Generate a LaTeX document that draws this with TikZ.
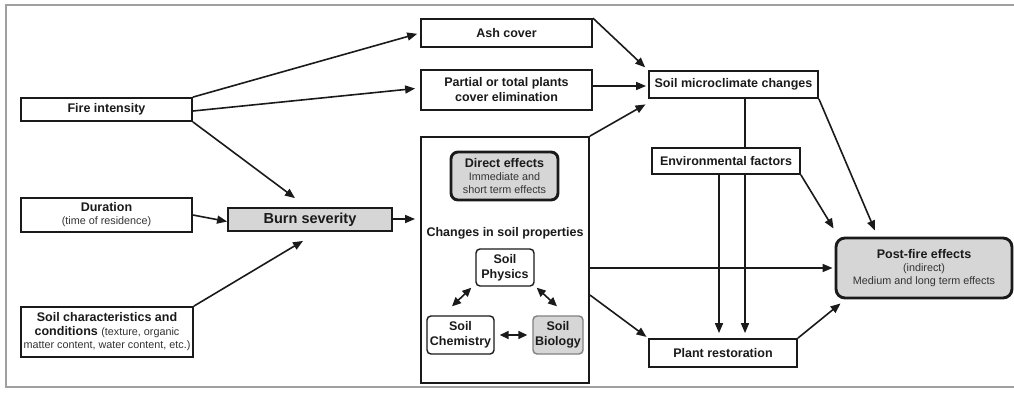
\documentclass[tikz,border=0pt]{standalone}
\usepackage{fontspec}
\setmainfont{Liberation Sans}
\usetikzlibrary{arrows.meta,calc}
\definecolor{ink}{HTML}{1A1A1A}
\definecolor{smallink}{HTML}{333333}
\definecolor{boxgray}{HTML}{D6D6D6}
\definecolor{framegray}{HTML}{A0A0A0}
\newcommand{\bl}{\fontsize{12.5}{15}\selectfont\bfseries}
\newcommand{\blbig}{\fontsize{14.5}{16}\selectfont\bfseries}
\newcommand{\sm}{\fontsize{10.8}{13.5}\selectfont\mdseries\color{smallink}}
\tikzset{
  box/.style={draw=ink, line width=1.8pt, fill=white, inner sep=0pt, align=center, font=\bl, text=ink},
  rbox/.style={box, rounded corners=4pt, line width=1.4pt},
  thickbox/.style={box, rounded corners=7pt, line width=2.9pt, fill=boxgray},
  arr/.style={draw=ink, line width=1.6pt, -{Triangle[length=10pt,width=8pt]}},
  darr/.style={draw=ink, line width=1.6pt, {Triangle[length=9pt,width=8pt]}-{Triangle[length=9pt,width=8pt]}},
  plain/.style={draw=ink, line width=1.6pt}
}
\begin{document}
\begin{tikzpicture}[x=1pt,y=-1pt]
\useasboundingbox (0,0) rectangle (1014,394);
\draw[framegray, line width=1.2pt] (1014,5) -- (6,5) -- (6,387) -- (1014,387);

% left column
\node[box, minimum width=171pt, minimum height=23pt] (fire) at (106.5,109.5) {Fire intensity};
\node[box, minimum width=171pt, minimum height=34pt] (dur) at (106.5,215) {Duration\\[-2pt]{\sm (time of residence)}};
\node[box, minimum width=172pt, minimum height=50pt] (soilc) at (107,332) {Soil characteristics and\\[-1pt]conditions {\sm (texture, organic}\\[-2pt]{\sm matter content, water content, etc.)}};
\node[box, fill=boxgray, minimum width=164pt, minimum height=23pt, font=\blbig] (burn) at (310,219.5) {Burn severity};

% middle column
\node[box, minimum width=171pt, minimum height=28pt] (ash) at (506.5,33) {Ash cover};
\node[box, minimum width=171pt, minimum height=40pt] (part) at (506.5,90) {Partial or total plants\\cover elimination};
\node[box, minimum width=168pt, minimum height=246pt] (big) at (505,260) {};
\node[thickbox, minimum width=107pt, minimum height=48pt] (direct) at (504.5,176) {Direct effects\\[-2pt]{\sm Immediate and}\\[-2pt]{\sm short term effects}};
\node[font=\bl, text=ink, inner sep=0pt] (chg) at (505,233) {Changes in soil properties};
\node[rbox, minimum width=58pt, minimum height=37pt] (phys) at (505,267.5) {Soil\\Physics};
\node[rbox, minimum width=67pt, minimum height=38pt] (chem) at (460.5,335) {Soil\\Chemistry};
\node[rbox, draw=gray, fill=boxgray, minimum width=50pt, minimum height=38pt] (bio) at (558,335) {Soil\\Biology};

% right column
\node[box, minimum width=169pt, minimum height=27pt] (micro) at (733.5,84.5) {Soil microclimate changes};
\node[box, minimum width=148pt, minimum height=26pt] (env) at (726,161) {Environmental factors};
\node[box, minimum width=148pt, minimum height=28pt] (plant) at (723,353) {Plant restoration};
\node[thickbox, rounded corners=9pt, minimum width=176pt, minimum height=60pt] (post) at (924,268) {Post-fire effects\\[-2pt]{\sm (indirect)}\\[-2pt]{\sm Medium and long term effects}};

\coordinate (va) at (745,0);
\coordinate (vb) at (719,0);

% connectors
\draw[arr, shorten >=3pt] (fire.north east) -- (ash.west);
\draw[arr, shorten >=5pt] ([yshift=-1.5pt]fire.east) -- ([yshift=2pt]part.west);
\draw[arr] (fire.south east) -- ([xshift=-15pt,yshift=9pt]burn.north);
\draw[arr] (dur.east) -- ([yshift=-2pt]burn.west);
\draw[arr] (soilc.north east) -- ([xshift=-7pt,yshift=-9pt]burn.south);
\draw[arr, shorten >=5pt] ([yshift=0.5pt]burn.east) -- ([yshift=0.5pt]burn.east -| big.west);

\draw[arr, shorten >=4pt] (ash.north east) -- (micro.north west);
\draw[arr, shorten >=2pt] ([yshift=4pt]part.east) -- ([yshift=4pt]part.east -| micro.west);
\draw[arr, shorten >=3pt] (big.north east) -- ([yshift=-4pt]micro.south west);

\draw[plain] (va |- micro.south) -- (va |- env.north);
\draw[arr, shorten >=5pt] (va |- env.south) -- (va |- plant.north);
\draw[arr, shorten >=5pt] (vb |- env.south) -- (vb |- plant.north);

\draw[arr] (micro.south east) -- ([xshift=-49pt,yshift=6pt]post.north);
\draw[arr] (env.south east) -- ([xshift=-1pt,yshift=8pt]post.north west);
\draw[arr, shorten >=2pt] (post.west -| big.east) -- (post.west);
\draw[arr, shorten >=2pt] ([yshift=-35pt]big.east) -- (plant.north west);
\draw[arr] (plant.north east) -- ([xshift=6pt,yshift=-4pt]post.south west);

\draw[darr] ([xshift=-4pt,yshift=-1pt]phys.south west) -- ([xshift=-8.5pt,yshift=9pt]chem.north);
\draw[darr] ([xshift=2pt,yshift=-1pt]phys.south east) -- ([xshift=-1pt,yshift=9pt]bio.north);
\draw[darr] ([xshift=5pt]chem.east) -- ([xshift=-5pt]bio.west);
\end{tikzpicture}
\end{document}
